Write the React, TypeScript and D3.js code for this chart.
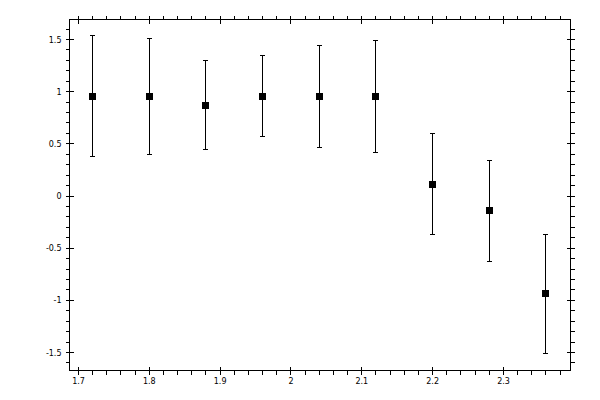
import React from "react";
import * as d3 from "d3";

const xValues = [1.72, 1.8, 1.88, 1.96, 2.04, 2.12, 2.2, 2.28, 2.36];
const yValues = [0.954, 0.954, 0.867, 0.954, 0.954, 0.954, 0.11, -0.139, -0.935];
const yUpper = [1.538, 1.51, 1.299, 1.347, 1.443, 1.49, 0.599, 0.34, -0.369];
const yLower = [0.379, 0.398, 0.446, 0.57, 0.465, 0.417, -0.369, -0.628, -1.51];
const xMajorTicks = [1.7, 1.8, 1.9, 2.0, 2.1, 2.2, 2.3];
const xTickLabels = ["1.7", "1.8", "1.9", "2", "2.1", "2.2", "2.3"];
const yMajorTicks = [-1.5, -1, -0.5, 0, 0.5, 1, 1.5];
const yTickLabels = ["-1.5", "-1", "-0.5", "0", "0.5", "1", "1.5"];

const W = 600;
const H = 400;
const L = 69.5, R = 570.5, T = 19.5, B = 370.5;
const X_DOMAIN = [1.6873, 2.3946];
const Y_DOMAIN = [-1.6725, 1.6917];

export default function App() {
  const x = d3.scaleLinear().domain(X_DOMAIN).range([L, R]);
  const y = d3.scaleLinear().domain(Y_DOMAIN).range([B, T]);

  const xMinor = d3.range(0, 36).map((i) => 1.7 + i * 0.02).filter((v) => v <= X_DOMAIN[1]);
  const yMinor = d3.range(-16, 18).map((i) => i / 10).filter((v) => v >= Y_DOMAIN[0] && v <= Y_DOMAIN[1]);
  const isMajor = (v: number, arr: number[]) => arr.some((m) => Math.abs(m - v) < 1e-6);

  const font = { fontFamily: "DejaVu Sans", fontSize: 8, fill: "#000" };
  const r = (v: number) => Math.round(v - 0.5 + 1e-6) + 0.5;

  return (
    <svg width={W} height={H} style={{ position: "absolute", left: 0, top: 0, background: "#fff" }}>
      <rect x={0} y={0} width={W} height={H} fill="#fff" />
      <g stroke="#000" strokeWidth={1} shapeRendering="crispEdges">
        <rect x={L} y={T} width={R - L} height={B - T} fill="none" />
        {xMinor.map((v, i) => {
          const px = r(x(v));
          const maj = isMajor(v, xMajorTicks);
          return (
            <g key={"xm" + i}>
              <line x1={px} x2={px} y1={T - 4} y2={maj ? T + 4 : T} />
              <line x1={px} x2={px} y1={maj ? B - 4 : B} y2={B + 4} />
            </g>
          );
        })}
        {yMinor.map((v, i) => {
          const py = r(y(v));
          const maj = isMajor(v, yMajorTicks);
          return (
            <g key={"ym" + i}>
              <line y1={py} y2={py} x1={L - 4} x2={maj ? L + 4 : L} />
              <line y1={py} y2={py} x1={maj ? R - 4 : R} x2={R + 4} />
            </g>
          );
        })}
        {xValues.map((xv, i) => {
          const px = r(x(xv));
          const yt = r(y(yUpper[i]));
          const yb = r(y(yLower[i]));
          return (
            <g key={"e" + i}>
              <line x1={px} x2={px} y1={yt} y2={yb} />
              <line x1={px - 2.5} x2={px + 2.5} y1={yt} y2={yt} />
              <line x1={px - 2.5} x2={px + 2.5} y1={yb} y2={yb} />
            </g>
          );
        })}
      </g>
      <g fill="#000" shapeRendering="crispEdges">
        {xValues.map((xv, i) => (
          <rect
            key={"p" + i}
            x={r(x(xv)) - 3.5}
            y={r(y(yValues[i])) - 3.5}
            width={7}
            height={7}
          />
        ))}
      </g>
      <g>
        {xMajorTicks.map((v, i) => (
          <text key={"xl" + i} x={x(v)} y={384} textAnchor="middle" style={font}>
            {xTickLabels[i]}
          </text>
        ))}
        {yMajorTicks.map((v, i) => (
          <text key={"yl" + i} x={61.5} y={y(v) + 3} textAnchor="end" style={font}>
            {yTickLabels[i]}
          </text>
        ))}
      </g>
    </svg>
  );
}
